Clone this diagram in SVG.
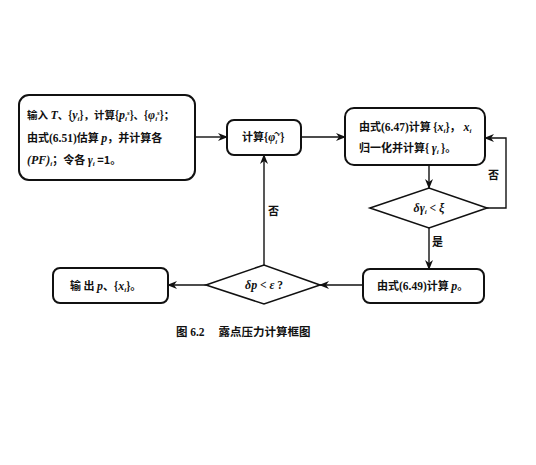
<svg xmlns="http://www.w3.org/2000/svg" width="536" height="465" viewBox="0 0 536 465">
<defs>
<marker id="ah" markerWidth="10" markerHeight="8" refX="9" refY="4" orient="auto" markerUnits="userSpaceOnUse">
<path d="M0,0 L10,4 L0,8 L3,4 Z" fill="#111"/>
</marker>
<style>
.box{fill:#fff;stroke:#111;stroke-width:2}
.dia{fill:#fff;stroke:#111;stroke-width:1.6}
.ln{fill:none;stroke:#111;stroke-width:1.4}
.t{font-family:"Noto Sans CJK SC","Liberation Serif",serif;font-size:11px;font-weight:bold;fill:#111}
.m{font-family:"Liberation Serif",serif;font-style:italic;font-weight:bold;font-size:12px}
.n{font-family:"Liberation Serif",serif;font-weight:bold;font-size:11.5px}
.s{font-size:7px}
.cap{font-family:"Noto Sans CJK SC","Liberation Serif",serif;font-size:11.5px;font-weight:bold;fill:#111}
</style>
</defs>
<rect width="536" height="465" fill="#fff"/>
<g id="connectors">
<line class="ln" x1="195" y1="137" x2="227" y2="137" marker-end="url(#ah)"/>
<line class="ln" x1="301" y1="137" x2="345" y2="137" marker-end="url(#ah)"/>
<line class="ln" x1="429" y1="165" x2="429" y2="188" marker-end="url(#ah)"/>
<polyline class="ln" points="487,208 506,208 506,138 485,138" marker-end="url(#ah)"/>
<line class="ln" x1="429" y1="228" x2="429" y2="269" marker-end="url(#ah)"/>
<line class="ln" x1="363" y1="285" x2="320" y2="285" marker-end="url(#ah)"/>
<line class="ln" x1="264" y1="265" x2="264" y2="155" marker-end="url(#ah)"/>
<line class="ln" x1="206" y1="285" x2="168" y2="285" marker-end="url(#ah)"/>
<text class="t" x="488" y="179">否</text>
<text class="t" x="432" y="246">是</text>
<text class="t" x="268" y="215">否</text>
</g>
<g id="n1">
<rect class="box" x="19" y="95" width="176" height="85" rx="10"/>
<text class="t" x="27" y="119" style="font-size:10.5px">输入 <tspan class="m">T</tspan>、{<tspan class="m">y</tspan><tspan class="m s" dy="2">i</tspan><tspan dy="-2">}，计算{</tspan><tspan class="m">p</tspan><tspan class="m s" dy="2">i</tspan><tspan class="m s" dy="-6">s</tspan><tspan dy="4">}、{</tspan><tspan class="m">φ</tspan><tspan class="m s" dy="2">i</tspan><tspan class="m s" dy="-6">s</tspan><tspan dy="4">}；</tspan></text>
<text class="t" x="27" y="142">由式<tspan class="n">(6.51)</tspan>估算 <tspan class="m">p</tspan>，并计算各</text>
<text class="t" x="27" y="164"><tspan class="m">(PF)</tspan><tspan class="m s" dy="2">i</tspan><tspan dy="-2">；令各 </tspan><tspan class="m">γ</tspan><tspan class="m s" dy="2">i</tspan><tspan dy="-2"> =1。</tspan></text>
</g>
<g id="n2">
<rect class="box" x="227" y="120" width="74" height="35" rx="7"/>
<text class="t" x="242" y="141">计算{<tspan class="m">φ̂</tspan><tspan class="m s" dy="3">i</tspan><tspan class="m s" dy="-8">v</tspan><tspan dy="5">}</tspan></text>
</g>
<g id="n3">
<rect class="box" x="345" y="108" width="140" height="57" rx="9"/>
<text class="t" x="359" y="131">由式<tspan class="n">(6.47)</tspan>计算 {<tspan class="m">x</tspan><tspan class="m s" dy="2">i</tspan><tspan dy="-2">}，</tspan><tspan class="m" dx="3">x</tspan><tspan class="m s" dy="2">i</tspan></text>
<text class="t" x="359" y="152">归一化并计算{ <tspan class="m">γ</tspan><tspan class="m s" dy="2">i</tspan><tspan dy="-2"> }。</tspan></text>
</g>
<g id="d1">
<polygon class="dia" points="370,208 429,188 487,208 429,228"/>
<text class="t" x="429" y="212" text-anchor="middle"><tspan class="m">δγ</tspan><tspan class="m s" dy="2">i</tspan><tspan class="n" dy="-2"> &lt; </tspan><tspan class="m">ξ</tspan></text>
</g>
<g id="n4">
<rect class="box" x="363" y="269" width="121" height="34" rx="7"/>
<text class="t" x="377" y="290">由式<tspan class="n">(6.49)</tspan>计算 <tspan class="m">p</tspan>。</text>
</g>
<g id="d2">
<polygon class="dia" points="206,285 264,265 320,285 264,304"/>
<text class="t" x="264" y="289" text-anchor="middle"><tspan class="m">δp</tspan><tspan class="n"> &lt; </tspan><tspan class="m">ε</tspan><tspan class="n"> ?</tspan></text>
</g>
<g id="n5">
<rect class="box" x="53" y="268" width="115" height="35" rx="7"/>
<text class="t" x="70" y="290">输 出 <tspan class="m">p</tspan>、{<tspan class="m">x</tspan><tspan class="m s" dy="2">i</tspan><tspan dy="-2">}。</tspan></text>
</g>
<text class="cap" x="176" y="336">图 <tspan class="n">6.2</tspan>　 露点压力计算框图</text>
</svg>
